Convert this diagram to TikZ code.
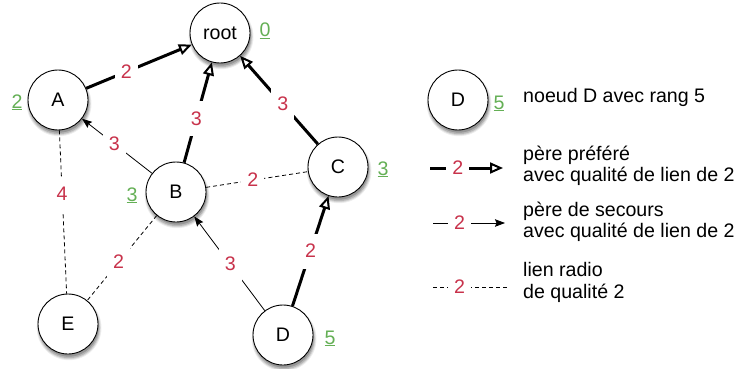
\documentclass[tikz,border=0pt]{standalone}
\usepackage{fontspec}
\setmainfont{Liberation Sans}
\usetikzlibrary{arrows.meta,shadows}
\definecolor{lblred}{RGB}{200,50,75}
\definecolor{rankgreen}{RGB}{100,175,85}
\newcommand{\stxt}[1]{\raisebox{-3pt}{#1}}
\begin{document}
\begin{tikzpicture}[x=1pt,y=-1pt,
  every node/.style={font=\fontsize{19.6}{23}\selectfont},
  station/.style={circle,draw,line width=0.9pt,fill=white,minimum size=60pt,inner sep=0pt,
    drop shadow={shadow xshift=1pt,shadow yshift=-3.5pt,fill=black,opacity=0.07,shadow scale=1.08},
    drop shadow={shadow xshift=1pt,shadow yshift=-3.5pt,fill=black,opacity=0.10,shadow scale=1.05},
    drop shadow={shadow xshift=1pt,shadow yshift=-3.5pt,fill=black,opacity=0.14,shadow scale=1.02},
    drop shadow={shadow xshift=1pt,shadow yshift=-3pt,fill=black,opacity=0.18,shadow scale=0.99}},
  rank/.style={text=rankgreen,anchor=base,inner sep=0pt},
  lbl/.style={text=lblred,fill=white,inner xsep=6pt,inner ysep=11pt,text height=13pt,text depth=0pt},
  pref/.style={line width=3pt,-{Triangle[length=13pt,width=11pt,fill=white,line width=2pt]}},
  backup/.style={line width=0.8pt,-{Stealth[length=10pt,width=7.5pt,inset=1.5pt]}},
  radio/.style={line width=0.8pt,dash pattern=on 4pt off 3pt},
  legtext/.style={anchor=base west,inner sep=0pt}
]
\useasboundingbox (0,0) rectangle (736,369);

% stations
\node[station] (root) at (220,33) {\stxt{root}};
\node[station] (A) at (58,100) {\stxt{A}};
\node[station] (B) at (176,192) {\stxt{B}};
\node[station] (C) at (338,167) {\stxt{C}};
\node[station] (E) at (68,324) {\stxt{E}};
\node[station] (D) at (283,335) {\stxt{D}};
\node[station] (LD) at (458,100) {\stxt{D}};

% ranks
\node[rank] (r0) at (265,37) {\underline{0}};
\node[rank] (rA) at (17,108) {\underline{2}};
\node[rank] (rB) at (132,201) {\underline{3}};
\node[rank] (rC) at (383,175) {\underline{3}};
\node[rank] (rD) at (330,344) {\underline{5}};
\node[rank] (rLD) at (499,109) {\underline{5}};

% radio links
\draw[radio] (A) -- node[lbl,pos=0.39] {4} (E);
\draw[radio] (B) -- node[lbl,pos=0.46] {2} (C);
\draw[radio] (B) -- node[lbl,pos=0.55] {2} (E);

% backup parents
\draw[backup] (B) -- node[lbl,pos=0.54] {3} (A);
\draw[backup] (D) -- node[lbl,pos=0.49] {3} (B);

% preferred parents
\draw[pref] (A) -- node[lbl,pos=0.38] {2} (root);
\draw[pref] (B) -- node[lbl,pos=0.44] {3} (root);
\draw[pref] (C) -- node[lbl,pos=0.45] {3} (root);
\draw[pref] (D) -- node[lbl,pos=0.5] {2} (C);

% legend
\coordinate (p1) at (430,168);
\coordinate (p2) at (503,168);
\coordinate (s1) at (433,223);
\coordinate (s2) at (505,223);
\coordinate (q1) at (433,287);
\coordinate (q2) at (507,287);
\draw[pref] (p1) -- node[lbl,pos=0.38] {2} (p2);
\draw[backup] (s1) -- node[lbl,pos=0.37] {2} (s2);
\draw[radio] (q1) -- node[lbl,pos=0.36] {2} (q2);

\node[legtext] (t1) at (523,102) {noeud D avec rang 5};
\node[legtext] (t2) at (523,160) {père préféré};
\node[legtext] (t3) at (523,181) {avec qualité de lien de 2};
\node[legtext] (t4) at (523,216) {père de secours};
\node[legtext] (t5) at (523,237) {avec qualité de lien de 2};
\node[legtext] (t6) at (523,276) {lien radio};
\node[legtext] (t7) at (523,298) {de qualité 2};
\end{tikzpicture}
\end{document}
